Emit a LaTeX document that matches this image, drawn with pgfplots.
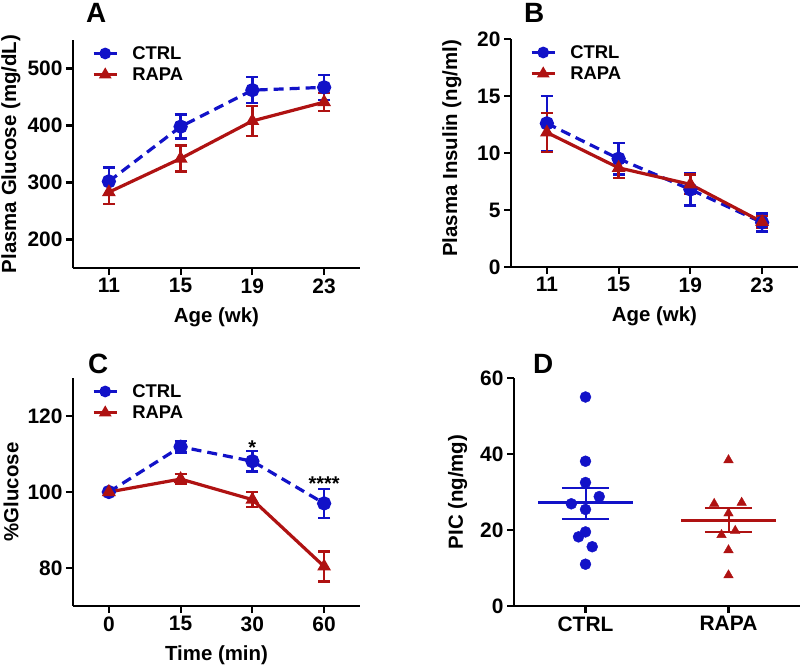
\documentclass[border=0pt]{standalone}
\usepackage{fontspec}
\setmainfont{Liberation Sans}
\usepackage{pgfplots}
\pgfplotsset{compat=1.18}

\definecolor{ctrl}{RGB}{18,18,200}
\definecolor{rapa}{RGB}{175,18,18}

\pgfplotsset{
  panel/.style={
    scale only axis, width=287bp, height=228bp,
    anchor=south west,
    axis x line=bottom, axis y line=left,
    axis line style={-, line width=2.8bp},
    tick align=outside, major tick length=7bp,
    every tick/.style={black, line width=2.2bp},
    minor tick num=0,
    /pgf/number format/assume math mode=true,
    tick label style={font=\bfseries\fontsize{21}{21}\selectfont},
    label style={font=\bfseries\fontsize{20.5}{21}\selectfont},
    xlabel style={at={(axis description cs:0.5,0)}, anchor=base, yshift=-54bp},
    legend style={draw=none, fill=none, inner sep=0pt, anchor=north west,
      font=\bfseries\fontsize{18.5}{22}\selectfont, cells={anchor=west},
      row sep=3bp},
    legend image code/.code={\draw[mark repeat=2,mark phase=2,#1,mark size=4.2bp]
      plot coordinates {(0bp,0bp)(11.5bp,0bp)(23bp,0bp)};
      \path (35bp,0bp);},
    clip=false,
  },
  ctrlline/.style={ctrl, line width=3.2bp, dash pattern=on 10bp off 6bp,
    mark=*, mark size=5.5bp, mark options={solid},
    error bars/.cd, y dir=both, y explicit,
    error bar style={solid, line width=2.4bp},
    error mark options={solid, rotate=90, line width=2.4bp, mark size=6bp}},
  rapaline/.style={rapa, line width=3.2bp,
    mark=triangle*, mark size=4.8bp, mark options={solid},
    error bars/.cd, y dir=both, y explicit,
    error bar style={solid, line width=2.4bp},
    error mark options={solid, rotate=90, line width=2.4bp, mark size=6bp}},
}

\begin{document}
\begin{tikzpicture}
\path[use as bounding box] (0,0) rectangle (800bp,-666bp);

% A
\begin{axis}[panel, at={(73bp,-268bp)},
  xmin=9, xmax=25, xtick={11,15,19,23},
  ymin=150, ymax=550, ytick={200,300,400,500},
  xlabel={Age (wk)}, ylabel={Plasma Glucose (mg/dL)},
  ylabel style={at={(axis description cs:-0.216,0.5)}, anchor=center},
  legend style={at={(axis description cs:0.066,0.982)}},
]
\addplot[ctrlline] coordinates {(11,302)+-(0,24) (15,398)+-(0,21) (19,462)+-(0,23) (23,467)+-(0,22)};
\addlegendentry{CTRL}
\addplot[rapaline] coordinates {(11,283)+-(0,21) (15,342)+-(0,23) (19,408)+-(0,26) (23,441)+-(0,16)};
\addlegendentry{RAPA}
\end{axis}

% B
\begin{axis}[panel, at={(511bp,-267bp)},
  xmin=9, xmax=25, xtick={11,15,19,23},
  ymin=0, ymax=20, ytick={0,5,10,15,20},
  xlabel={Age (wk)}, ylabel={Plasma Insulin (ng/ml)},
  ylabel style={at={(axis description cs:-0.206,0.52)}, anchor=center},
  legend style={at={(axis description cs:0.066,0.982)}},
]
\addplot[ctrlline] coordinates {(11,12.6)+-(0,2.4) (15,9.5)+-(0,1.4) (19,6.8)+-(0,1.4) (23,3.9)+-(0,0.8)};
\addlegendentry{CTRL}
\addplot[rapaline] coordinates {(11,11.8)+-(0,1.7) (15,8.7)+-(0,0.9) (19,7.25)+-(0,0.85) (23,3.95)+-(0,0.5)};
\addlegendentry{RAPA}
\end{axis}

% C
\begin{axis}[panel, at={(73bp,-606bp)},
  xmin=-0.5, xmax=3.5, xtick={0,1,2,3}, xticklabels={0,15,30,60},
  ymin=70, ymax=130, ytick={80,100,120},
  xlabel={Time (min)}, ylabel={\%Glucose},
  ylabel style={at={(axis description cs:-0.216,0.5)}, anchor=center},
  legend style={at={(axis description cs:0.066,0.982)}},
]
\addplot[ctrlline] coordinates {(0,100)+-(0,0.5) (1,111.9)+-(0,1.5) (2,108.1)+-(0,2.7) (3,97.0)+-(0,3.8)};
\addlegendentry{CTRL}
\addplot[rapaline] coordinates {(0,100)+-(0,0.4) (1,103.4)+-(0,1.3) (2,98.0)+-(0,2.0) (3,80.4)+-(0,3.9)};
\addlegendentry{RAPA}
\node[anchor=base, font=\bfseries\fontsize{20}{20}\selectfont] at (axis cs:2,110) {*};
\node[anchor=base, font=\bfseries\fontsize{20}{20}\selectfont] at (axis cs:3,100.5) {****};
\end{axis}

% D
\begin{axis}[panel, at={(514bp,-606bp)}, width=286bp,
  xmin=-0.5, xmax=1.5, xtick={0,1}, xticklabels={CTRL,RAPA},
  ymin=0, ymax=60, ytick={0,20,40,60},
  ylabel={PIC (ng/mg)},
  ylabel style={at={(axis description cs:-0.197,0.5)}, anchor=center},
]
\addplot[ctrl, only marks, mark=*, mark size=5.5bp] coordinates {
  (0,55.0) (0,38.1) (0,32.5) (0.096,28.8) (-0.099,26.9)
  (0,25.4) (0,19.5) (-0.049,18.2) (0.047,15.6) (0,11.0)};
\addplot[rapa, only marks, mark=triangle*, mark size=5.5bp] coordinates {
  (1,38.4) (0.9,26.9) (1.092,27.2) (1,24.4) (1.047,19.8)
  (0.951,18.7) (1,14.7) (1,8.1)};
\addplot[ctrl, line width=3bp] coordinates {(-0.33,27.2) (0.33,27.2)};
\addplot[ctrl, line width=2bp] coordinates {(-0.165,31.1) (0.165,31.1)};
\addplot[ctrl, line width=2bp] coordinates {(-0.165,23.0) (0.165,23.0)};
\addplot[ctrl, line width=2bp] coordinates {(0,23.0) (0,31.1)};
\addplot[rapa, line width=3bp] coordinates {(0.67,22.5) (1.33,22.5)};
\addplot[rapa, line width=2bp] coordinates {(0.835,25.7) (1.165,25.7)};
\addplot[rapa, line width=2bp] coordinates {(0.835,19.4) (1.165,19.4)};
\addplot[rapa, line width=2bp] coordinates {(1,19.4) (1,25.7)};
\end{axis}

\node[anchor=base west, inner sep=0pt, font=\bfseries\fontsize{28}{28}\selectfont] at (86bp,-22.7bp) {A};
\node[anchor=base west, inner sep=0pt, font=\bfseries\fontsize{28}{28}\selectfont] at (524bp,-22.7bp) {B};
\node[anchor=base west, inner sep=0pt, font=\bfseries\fontsize{28}{28}\selectfont] at (88bp,-373.5bp) {C};
\node[anchor=base west, inner sep=0pt, font=\bfseries\fontsize{28}{28}\selectfont] at (533bp,-373.5bp) {D};
\end{tikzpicture}
\end{document}
